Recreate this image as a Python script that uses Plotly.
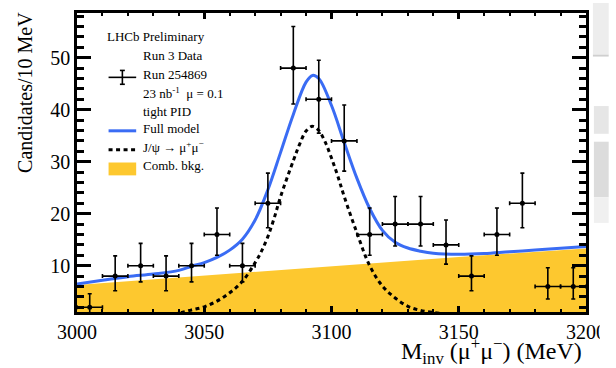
import plotly.graph_objects as go

# ---------------- data ----------------
mass_centers = [3005, 3015, 3025, 3035, 3045, 3055, 3065, 3075, 3085, 3095,
                3105, 3115, 3125, 3135, 3145, 3155, 3165, 3175, 3185, 3195]
counts = [2, 8, 10, 8, 10, 16, 10, 22, 48, 42, 34, 16, 18, 18, 14, 8, 16, 22, 6, 6]
err_hi = [2.6, 3.9, 4.3, 3.9, 4.3, 5.1, 4.3, 5.8, 8.0, 7.5, 6.9, 5.1, 5.3, 5.3, 4.8, 3.9, 5.1, 5.8, 3.6, 3.6]
err_lo = [1.3, 2.8, 3.1, 2.8, 3.1, 4.0, 3.1, 4.7, 6.9, 6.5, 5.8, 4.0, 4.2, 4.2, 3.7, 2.8, 4.0, 4.7, 2.4, 2.4]
bin_half = [5] * 20

# J/psi -> mu mu signal component (dashed)
sig_x = [3035, 3040, 3045, 3050, 3055, 3060, 3065, 3070, 3072.5, 3075, 3077.5, 3080, 3085, 3087.5,
         3090, 3092.5, 3095, 3097.5, 3100, 3102.5, 3105, 3110, 3115, 3120, 3125, 3130, 3135, 3140, 3145]
sig_y = [0.6, 0.9, 1.5, 2.1, 3.2, 4.8, 7.0, 10.6, 12.8, 15.6, 19.2, 23.3, 30.2, 33.4,
         35.9, 36.8, 36.0, 33.8, 30.7, 27.2, 23.3, 16.3, 10.0, 6.1, 3.8, 2.2, 1.4, 1.0, 0.7]

# full model (blue)
full_x = [3000, 3010, 3020, 3030, 3040, 3045, 3050, 3055, 3060, 3065, 3070, 3075, 3080, 3085,
          3090, 3092.5, 3095, 3100, 3105, 3110, 3115, 3120, 3125, 3130, 3135, 3140, 3150,
          3160, 3170, 3180, 3190, 3200]
full_y = [6.5, 7.2, 7.9, 8.4, 9.1, 9.9, 10.6, 11.6, 13.0, 15.1, 18.8, 24.6, 31.8, 39.1,
          45.3, 46.6, 46.0, 40.8, 33.7, 26.8, 21.0, 16.8, 14.5, 13.4, 12.8, 12.4, 12.2,
          12.35, 12.7, 13.0, 13.35, 13.7]

# combinatorial background (yellow)
bkg_x = [3000, 3050, 3100, 3150, 3200]
bkg_y = [6.3, 8.1, 9.9, 11.7, 13.3]

x_ticks = [3000, 3050, 3100, 3150, 3200]
y_ticks = [10, 20, 30, 40, 50]

# ---------------- styling ----------------
FONT = "Liberation Serif"
BLUE = "#3a6cf4"
YELLOW = "#fdc82f"
W_PX, H_PX = 616, 368
L, T, PW, PH = 77, 10, 516, 302


def px(x):
    return (x - L) / PW


def py(y):
    return 1 - (y - T) / PH


fig = go.Figure()

fig.add_trace(go.Scatter(x=bkg_x, y=bkg_y, mode="lines", line=dict(width=0, color=YELLOW),
                         fill="tozeroy", fillcolor=YELLOW, showlegend=False, hoverinfo="skip"))
fig.add_trace(go.Scatter(x=sig_x, y=sig_y, mode="lines", line_shape="spline",
                         line=dict(color="black", width=3, dash="4px,3.5px"), showlegend=False))
fig.add_trace(go.Scatter(x=full_x, y=full_y, mode="lines", line_shape="spline",
                         line=dict(color=BLUE, width=3), showlegend=False))
fig.add_trace(go.Scatter(
    x=mass_centers, y=counts, mode="markers",
    marker=dict(color="black", size=5),
    error_y=dict(type="data", symmetric=False, array=err_hi, arrayminus=err_lo,
                 color="black", thickness=1.6, width=2),
    error_x=dict(type="data", array=bin_half, color="black", thickness=1.6, width=2),
    showlegend=False))

axis_common = dict(showline=True, linecolor="black", linewidth=2.5, mirror="ticks",
                   ticks="inside", tickcolor="black", tickwidth=2.5, showgrid=False,
                   zeroline=False, tickfont=dict(family=FONT, size=20, color="black"))

fig.update_xaxes(range=[3000, 3200], tickvals=x_ticks, ticklen=6,
                 minor=dict(dtick=10, ticklen=3, tickwidth=2, ticks="inside", tickcolor="black"),
                 **axis_common)
fig.update_yaxes(range=[1.1, 58.6], tickvals=y_ticks, ticklen=14,
                 minor=dict(dtick=2, ticklen=7, tickwidth=2.5, ticks="inside", tickcolor="black"),
                 **axis_common)

ann = []
shapes = []


def text(x, y, s, size=13, xanchor="left", **kw):
    ann.append(dict(x=px(x), y=py(y), xref="paper", yref="paper", text=s, showarrow=False,
                    xanchor=xanchor, yanchor="middle",
                    font=dict(family=FONT, size=size, color="black"), **kw))


def line(x0, y0, x1, y1, color="black", width=1.6, dash=None):
    d = dict(type="line", xref="paper", yref="paper", x0=px(x0), y0=py(y0), x1=px(x1), y1=py(y1),
             line=dict(color=color, width=width))
    if dash:
        d["line"]["dash"] = dash
    shapes.append(d)


def rect(x0, y0, x1, y1, color, layer="above"):
    shapes.append(dict(type="rect", xref="paper", yref="paper", x0=px(x0), y0=py(y0), x1=px(x1),
                       y1=py(y1), fillcolor=color, line=dict(width=0), layer=layer))


# legend block
text(105, 34, "LHCb Preliminary")
text(142, 53, "Run 3 Data")
text(142, 72, "Run 254869")
text(142, 91, "23 nb<sup>-1</sup>\u00a0\u00a0μ = 0.1")
text(142, 109, "tight PID")
text(142, 127, "Full model")
text(142, 145, "J/ψ → μ<sup>+</sup>μ<sup>−</sup>")
text(142, 164, "Comb. bkg.")

line(109, 75, 137, 75)
line(123, 68, 123, 82)
line(120.5, 68, 125.5, 68)
line(120.5, 82, 125.5, 82)
line(109, 129, 137, 129, color=BLUE, width=3)
line(109, 148, 137, 148, width=3, dash="4px,3.5px")
rect(109, 161, 137, 174, YELLOW)

# axis titles
ann.append(dict(x=px(24), y=py(90), xref="paper", yref="paper", text="Candidates/10 MeV",
                showarrow=False, textangle=-90, xanchor="center", yanchor="middle",
                font=dict(family=FONT, size=20, color="black")))
ann.append(dict(x=px(591), y=py(351), xref="paper", yref="paper",
                text="M<sub>inv</sub> (μ<sup>+</sup>μ<sup>−</sup>) (MeV)",
                showarrow=False, xanchor="right", yanchor="middle",
                font=dict(family=FONT, size=24, color="black")))

# cropped right margin of the source picture
rect(607, 312, 616, 368, "white")
rect(600, 0, 616, 52, "#ededed")
rect(600, 52, 616, 54, "#cfcfcf")
rect(601, 104, 616, 132, "#e6e6e6")
rect(601, 140, 616, 196, "#dcdcdc")
rect(601, 196, 616, 222, "#f0f0f0")

fig.update_layout(width=W_PX, height=H_PX, margin=dict(l=L, r=W_PX - L - PW, t=T, b=H_PX - T - PH),
                  paper_bgcolor="white", plot_bgcolor="white", annotations=ann, shapes=shapes,
                  font=dict(family=FONT, color="black"))

fig.write_html("out.html")
